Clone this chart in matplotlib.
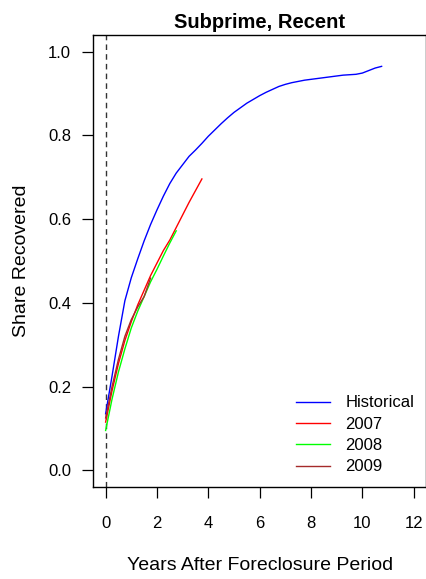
import matplotlib
matplotlib.use('Agg')
import matplotlib.pyplot as plt

plt.rcParams['font.family'] = ['Liberation Sans', 'DejaVu Sans']

# Years after foreclosure period (quarterly)
hist_years = [0, 0.25, 0.5, 0.75, 1.0, 1.25, 1.5, 1.75, 2.0, 2.25, 2.5, 2.75,
              3.0, 3.25, 3.5, 3.75, 4.0, 4.25, 4.5, 4.75, 5.0, 5.25, 5.5, 5.75,
              6.0, 6.25, 6.5, 6.75, 7.0, 7.25, 7.5, 7.75, 8.0, 8.25, 8.5, 8.75,
              9.0, 9.25, 9.5, 9.75, 10.0, 10.25, 10.5, 10.75]
hist_share = [0.135, 0.225, 0.32, 0.405, 0.46, 0.505, 0.548, 0.587, 0.622, 0.655,
              0.685, 0.71, 0.73, 0.75, 0.765, 0.781, 0.798, 0.813, 0.828, 0.842,
              0.855, 0.866, 0.877, 0.886, 0.895, 0.903, 0.91, 0.917, 0.922,
              0.926, 0.929, 0.932, 0.934, 0.936, 0.938, 0.940, 0.942, 0.944,
              0.945, 0.946, 0.949, 0.955, 0.961, 0.965]

y2007_years = [0, 0.25, 0.5, 0.75, 1.0, 1.25, 1.5, 1.75, 2.0, 2.25, 2.5, 2.75,
               3.0, 3.25, 3.5, 3.75]
y2007_share = [0.115, 0.19, 0.255, 0.31, 0.355, 0.395, 0.43, 0.465, 0.495,
               0.525, 0.55, 0.58, 0.61, 0.64, 0.668, 0.696]

y2008_years = [0, 0.25, 0.5, 0.75, 1.0, 1.25, 1.5, 1.75, 2.0, 2.25, 2.5, 2.75]
y2008_share = [0.095, 0.17, 0.235, 0.29, 0.34, 0.38, 0.415, 0.45, 0.48, 0.512,
               0.543, 0.572]

y2009_years = [0, 0.25, 0.5, 0.75, 1.0, 1.25, 1.5, 1.75]
y2009_share = [0.125, 0.20, 0.265, 0.32, 0.36, 0.39, 0.415, 0.459]

x_ticks = [0, 2, 4, 6, 8, 10, 12]
y_ticks = [0.0, 0.2, 0.4, 0.6, 0.8, 1.0]

fig = plt.figure(figsize=(4.27, 5.79), dpi=100)
ax = fig.add_axes([0.2185, 0.1589, 0.7792, 0.7807])

ax.axvline(0, color='#333333', linestyle=(0, (4, 3)), linewidth=1.0)
ax.plot(hist_years, hist_share, color='#0000FF', linewidth=1.0, label='Historical')
ax.plot(y2007_years, y2007_share, color='#FF0000', linewidth=1.0, label='2007')
ax.plot(y2008_years, y2008_share, color='#00FF00', linewidth=1.0, label='2008')
ax.plot(y2009_years, y2009_share, color='#A52A2A', linewidth=1.0, label='2009')

ax.set_xlim(-0.48, 12.48)
ax.set_ylim(-0.04, 1.04)
ax.set_xticks(x_ticks)
ax.set_yticks(y_ticks)
ax.set_yticklabels([f'{v:.1f}' for v in y_ticks])
ax.tick_params(axis='both', direction='out', length=7.6, width=0.9,
               labelsize=12, colors='black')
ax.tick_params(axis='x', pad=13)
ax.tick_params(axis='y', pad=8.4)
for s in ax.spines.values():
    s.set_linewidth(1.0)

ax.set_title('Subprime, Recent', fontsize=14.5, fontweight='bold', pad=5)
ax.set_xlabel('Years After Foreclosure Period', fontsize=14)
ax.set_ylabel('Share Recovered', fontsize=14)
ax.xaxis.set_label_coords(0.5, -0.1726)
ax.xaxis.label.set_va('center')
ax.yaxis.set_label_coords(-0.215, 0.5)
ax.yaxis.label.set_va('center')

ax.legend(loc='lower right', frameon=False, fontsize=12, handlelength=2.0,
          handletextpad=0.95, labelspacing=0.38, borderaxespad=0.3,
          bbox_to_anchor=(1.0, 0.002))

fig.savefig('out.png', dpi=100)
